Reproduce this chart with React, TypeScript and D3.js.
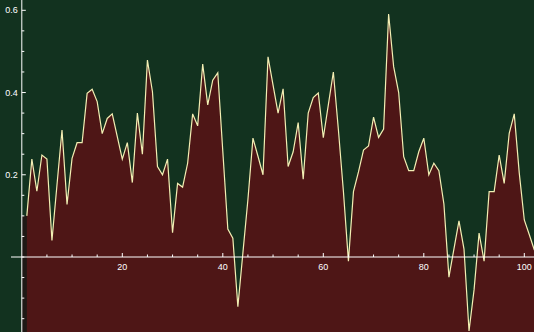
import React from "react";
import * as d3 from "d3";

const W = 534;
const H = 332;

const values: number[] = [
  0.10, 0.238, 0.16, 0.248, 0.238, 0.04, 0.175, 0.309, 0.128, 0.24,
  0.278, 0.278, 0.398, 0.408, 0.378, 0.30, 0.337, 0.348, 0.293, 0.238,
  0.278, 0.181, 0.35, 0.25, 0.479, 0.402, 0.22, 0.20, 0.238, 0.059,
  0.179, 0.17, 0.228, 0.348, 0.319, 0.469, 0.37, 0.43, 0.448, 0.257,
  0.068, 0.046, -0.121, 0.01, 0.14, 0.289, 0.245, 0.20, 0.487, 0.418,
  0.35, 0.409, 0.22, 0.256, 0.327, 0.189, 0.35, 0.388, 0.399, 0.29,
  0.37, 0.45, 0.31, 0.16, -0.01, 0.159, 0.207, 0.26, 0.27, 0.34,
  0.291, 0.311, 0.591, 0.463, 0.40, 0.244, 0.21, 0.21, 0.256, 0.289,
  0.20, 0.228, 0.21, 0.129, -0.049, 0.02, 0.088, 0.019, -0.18, -0.08,
  0.058, -0.01, 0.159, 0.159, 0.248, 0.179, 0.301, 0.348, 0.204, 0.09,
  0.054, 0.017,
];

const xMajor = [20, 40, 60, 80, 100];
const xMinor = d3.range(5, 105, 5);
const yMajor = [0.2, 0.4, 0.6];
const yMinor = d3.range(-0.15, 0.61, 0.05);

const BG = "#12321f";
const FILL = "#4e1616";
const LINE = "#f3efb4";

export default function App() {
  const x = d3.scaleLinear().domain([0, 20]).range([21.8, 122.3]);
  const y = d3.scaleLinear().domain([0, 0.6]).range([257, 10.3]);
  const pts = values.map((v, i) => ({ i: i + 1, v }));
  const area = d3
    .area<{ i: number; v: number }>()
    .x((d) => x(d.i))
    .y0(H + 5)
    .y1((d) => y(d.v));
  const line = d3
    .line<{ i: number; v: number }>()
    .x((d) => x(d.i))
    .y((d) => y(d.v));
  const font = "'Liberation Sans', Arial, sans-serif";
  return (
    <svg
      width={W}
      height={H}
      style={{ position: "absolute", left: 0, top: 0, display: "block" }}
    >
      <defs>
        <clipPath id="clip">
          <rect x={0} y={0} width={W} height={H} />
        </clipPath>
      </defs>
      <rect x={0} y={0} width={W} height={H} fill={BG} />
      <g clipPath="url(#clip)">
        <rect
          x={x(0)}
          y={y(values[0])}
          width={x(1) - x(0)}
          height={H - y(values[0])}
          fill="#1f1815"
        />
        <path d={area(pts) || ""} fill={FILL} />
        <path
          d={line(pts) || ""}
          fill="none"
          stroke={LINE}
          strokeWidth={1.2}
          strokeLinejoin="miter"
        />
      </g>
      {/* x axis */}
      <line x1={11} x2={W} y1={y(0)} y2={y(0)} stroke="#fff" strokeWidth={1} />
      {xMinor.map((t) => (
        <line
          key={"xm" + t}
          x1={x(t)}
          x2={x(t)}
          y1={y(0)}
          y2={y(0) - (xMajor.includes(t) ? 4 : 2.5)}
          stroke="#fff"
          strokeWidth={1}
        />
      ))}
      {xMajor.map((t) => (
        <text
          key={"xl" + t}
          x={x(t)}
          y={y(0) + 13}
          fill="#fff"
          fontSize={9}
          fontFamily={font}
          textAnchor="middle"
        >
          {t}
        </text>
      ))}
      {/* y axis */}
      <line x1={x(0)} x2={x(0)} y1={0} y2={H} stroke="#fff" strokeWidth={1} />
      {yMinor.map((t) => (
        <line
          key={"ym" + t.toFixed(2)}
          x1={x(0)}
          x2={x(0) + (yMajor.some((m) => Math.abs(m - t) < 1e-6) ? 4 : 2.5)}
          y1={y(t)}
          y2={y(t)}
          stroke="#fff"
          strokeWidth={1}
        />
      ))}
      {yMajor.map((t) => (
        <text
          key={"yl" + t}
          x={x(0) - 4}
          y={y(t) + 3}
          fill="#fff"
          fontSize={9}
          fontFamily={font}
          textAnchor="end"
        >
          {t.toFixed(1)}
        </text>
      ))}
    </svg>
  );
}
